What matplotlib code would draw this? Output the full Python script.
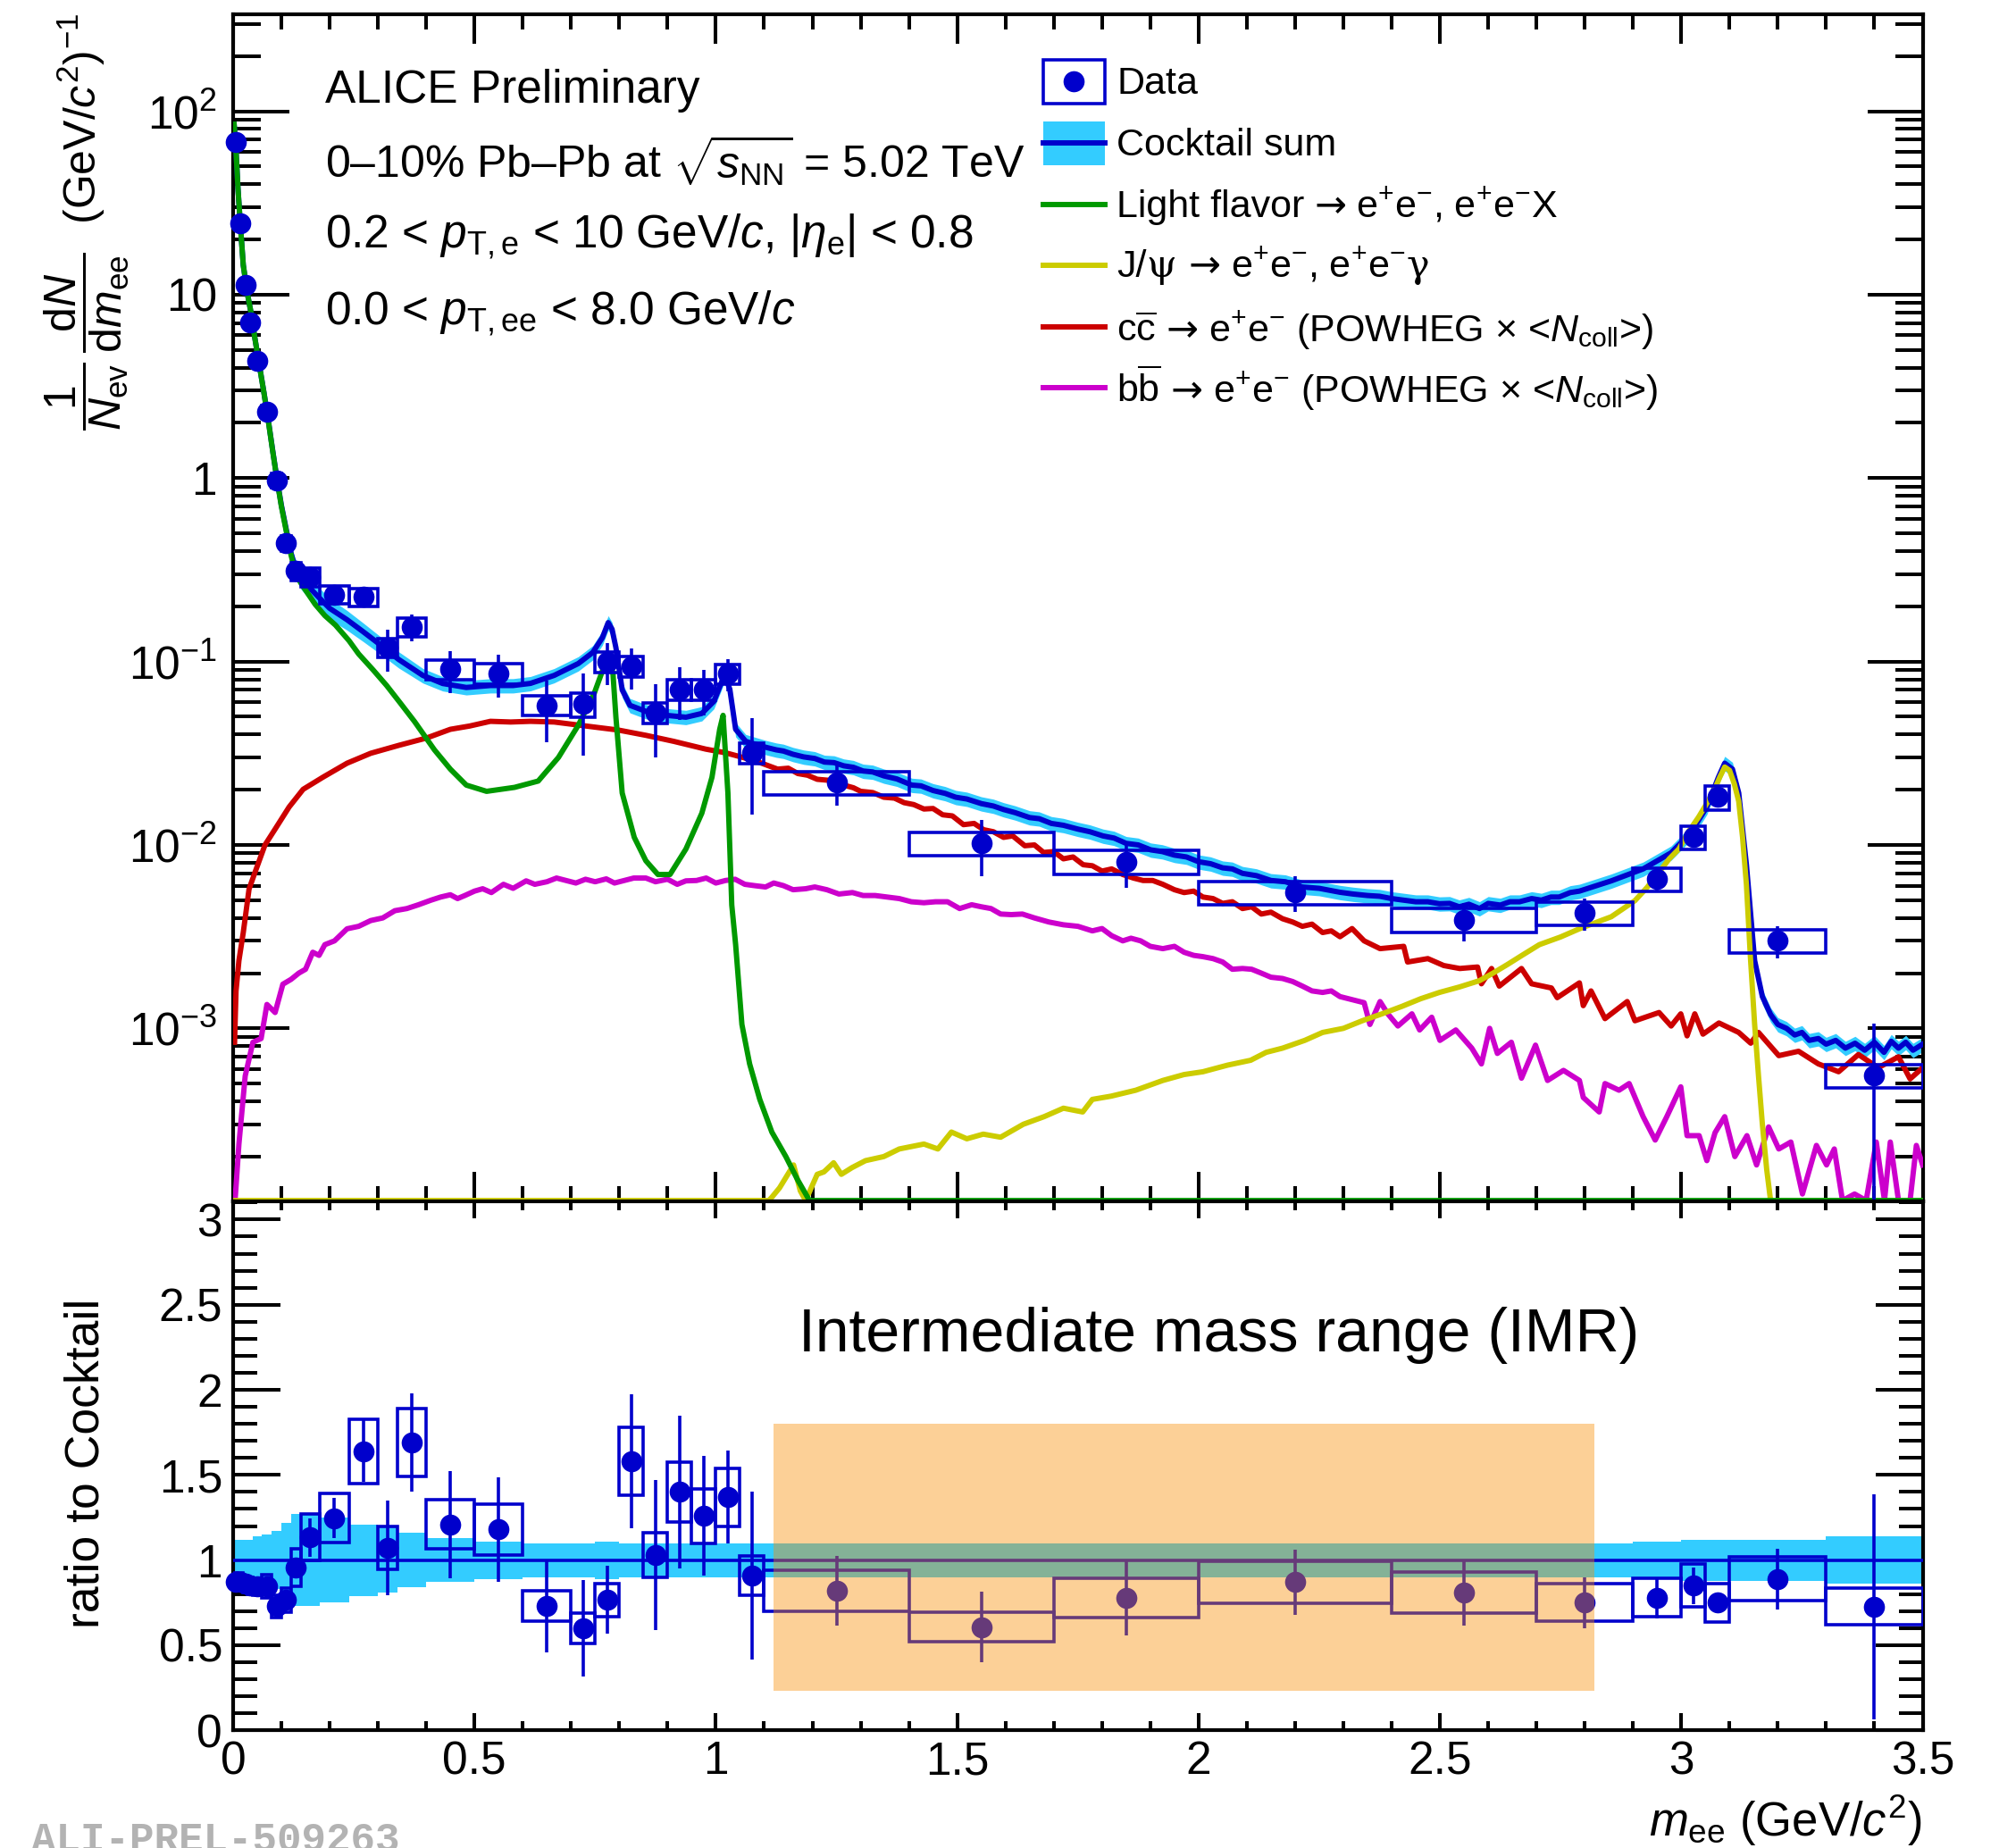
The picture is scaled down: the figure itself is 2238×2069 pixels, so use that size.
import numpy as np
import matplotlib
matplotlib.use('Agg')
import matplotlib.pyplot as plt
from matplotlib.patches import Rectangle
from matplotlib.lines import Line2D
from matplotlib.ticker import MultipleLocator, LogLocator, FixedLocator, FuncFormatter, NullFormatter

plt.rcParams['font.family'] = ['Liberation Sans', 'DejaVu Sans']
plt.rcParams['mathtext.fontset'] = 'custom'
plt.rcParams['mathtext.rm'] = 'Liberation Sans'
plt.rcParams['mathtext.it'] = 'Liberation Sans:italic'
plt.rcParams['mathtext.bf'] = 'Liberation Sans:bold'

# ---- data ----
bin_edges = [0.0, 0.01, 0.02, 0.03, 0.04, 0.06, 0.08, 0.10, 0.12, 0.14, 0.18, 0.24, 0.30,
             0.34, 0.40, 0.50, 0.60, 0.70, 0.75, 0.80, 0.85, 0.90, 0.95, 1.00, 1.05, 1.10,
             1.40, 1.70, 2.00, 2.40, 2.70, 2.90, 3.00, 3.05, 3.10, 3.30, 3.50]
data_y = [68.0, 24.6, 11.3, 7.05, 4.38, 2.31, 0.975, 0.442, 0.311, 0.290, 0.232, 0.225,
          0.119, 0.1545, 0.0906, 0.0861, 0.0577, 0.0585, 0.100, 0.094, 0.0527, 0.0705,
          0.0705, 0.086, 0.0319, 0.0219, 0.01026, 0.0081, 0.00553, 0.0039, 0.00427, 0.0065,
          0.01105, 0.01825, 0.0030, 0.000553]
stat_rel = [0.01, 0.01, 0.015, 0.02, 0.02, 0.03, 0.04, 0.05, 0.06, 0.10, 0.095, 0.11, 0.26,
            0.17, 0.26, 0.26, 0.37, 0.475, 0.26, 0.25, 0.43, 0.32, 0.28, 0.20, 0.54, 0.25,
            0.34, 0.28, 0.22, 0.24, 0.20, 0.155, 0.125, 0.05, 0.20, 0.91]
syst_rel = [0.06, 0.06, 0.06, 0.06, 0.06, 0.08, 0.09, 0.09, 0.115, 0.12, 0.115, 0.115, 0.117,
            0.118, 0.118, 0.126, 0.123, 0.147, 0.126, 0.127, 0.126, 0.125, 0.127, 0.124,
            0.126, 0.145, 0.145, 0.148, 0.144, 0.15, 0.148, 0.145, 0.149, 0.151, 0.145, 0.147]
ratio_y = [0.87, 0.87, 0.86, 0.85, 0.845, 0.845, 0.73, 0.765, 0.957, 1.133, 1.246, 1.64,
           1.07, 1.69, 1.21, 1.18, 0.73, 0.60, 0.767, 1.58, 1.03, 1.40, 1.26, 1.37, 0.91,
           0.82, 0.607, 0.777, 0.87, 0.81, 0.75, 0.78, 0.85, 0.75, 0.89, 0.727]
band_rel = [0.12, 0.12, 0.12, 0.12, 0.14, 0.15, 0.17, 0.22, 0.27, 0.27, 0.25, 0.21, 0.19,
            0.16, 0.13, 0.11, 0.10, 0.10, 0.11, 0.10, 0.10, 0.10, 0.10, 0.10, 0.10, 0.10,
            0.10, 0.10, 0.10, 0.10, 0.10, 0.11, 0.12, 0.12, 0.12, 0.14]

# cocktail sum and its band
sum_m = [0.002, 0.005, 0.010, 0.015, 0.021, 0.030, 0.037, 0.045, 0.054, 0.064, 0.074, 0.082,
         0.091, 0.100, 0.112, 0.120, 0.128, 0.140, 0.160, 0.178, 0.200, 0.236, 0.270, 0.302,
         0.343, 0.393, 0.434, 0.483, 0.533, 0.580, 0.616, 0.665, 0.715, 0.745, 0.765, 0.777,
         0.785, 0.793, 0.806, 0.822, 0.855, 0.897, 0.938, 0.971, 0.996, 1.010, 1.018, 1.029,
         1.041, 1.062, 1.103, 1.125, 1.140, 1.160, 1.182, 1.205, 1.225, 1.245, 1.265, 1.285,
         1.305, 1.325, 1.348, 1.375, 1.406, 1.425, 1.450, 1.475, 1.497, 1.520, 1.550, 1.575,
         1.596, 1.620, 1.650, 1.670, 1.695, 1.720, 1.750, 1.775, 1.802, 1.825, 1.850, 1.875,
         1.901, 1.925, 1.950, 1.975, 2.000, 2.025, 2.050, 2.070, 2.091, 2.120, 2.150, 2.180,
         2.215, 2.250, 2.293, 2.320, 2.350, 2.375, 2.400, 2.425, 2.450, 2.475, 2.499, 2.520,
         2.540, 2.560, 2.582, 2.600, 2.625, 2.645, 2.665, 2.690, 2.710, 2.730, 2.747, 2.770,
         2.789, 2.855, 2.921, 2.979, 3.019, 3.053, 3.077, 3.090, 3.106, 3.119, 3.135, 3.152,
         3.168, 3.185, 3.200, 3.218, 3.235, 3.250, 3.265, 3.284, 3.300, 3.320, 3.340, 3.360,
         3.380, 3.400, 3.420, 3.435, 3.450, 3.465, 3.480, 3.500]
sum_y = [85, 68, 38, 24, 14.5, 10.0, 8.0, 5.8, 4.18, 2.91, 1.97, 1.41, 0.985, 0.71, 0.495,
         0.39, 0.33, 0.285, 0.25, 0.223, 0.195, 0.169, 0.145, 0.125, 0.1026, 0.084, 0.0759,
         0.0722, 0.074, 0.074, 0.076, 0.084, 0.0975, 0.112, 0.135, 0.163, 0.15, 0.119, 0.07,
         0.0577, 0.0535, 0.0509, 0.0497, 0.0521, 0.0607, 0.075, 0.085, 0.0705, 0.0427, 0.0367,
         0.0341, 0.0330, 0.0325, 0.0312, 0.0302, 0.0296, 0.0283, 0.0281, 0.0270, 0.0265,
         0.0253, 0.0250, 0.0238, 0.0229, 0.0212, 0.0210, 0.0198, 0.0191, 0.0182, 0.0178,
         0.0168, 0.0163, 0.0156, 0.0150, 0.0141, 0.0139, 0.0131, 0.0128, 0.0122, 0.0118,
         0.0112, 0.0109, 0.0102, 0.0100, 0.0094, 0.0092, 0.0088, 0.0086, 0.0081, 0.0079,
         0.0075, 0.0074, 0.0070, 0.0068, 0.0064, 0.0063, 0.0059, 0.0058, 0.00552, 0.0054,
         0.0053, 0.00525, 0.0051, 0.0050, 0.0049, 0.0049, 0.00478, 0.0048, 0.0046, 0.00475,
         0.0045, 0.0048, 0.0047, 0.0049, 0.0049, 0.0051, 0.0050, 0.0052, 0.0052, 0.0055,
         0.0056, 0.00637, 0.0074, 0.00906, 0.0116, 0.0161, 0.0234, 0.0279, 0.0259, 0.0192,
         0.00778, 0.00234, 0.00149, 0.00119, 0.00105, 0.0010, 0.00092, 0.00095, 0.00086,
         0.00088, 0.00082, 0.00086, 0.00078, 0.00083, 0.00076, 0.00084, 0.00074, 0.00085,
         0.00078, 0.00084, 0.00076, 0.00082]
sum_band_m = [0.0, 0.12, 0.15, 0.25, 0.40, 3.50]
sum_band_rel = [0.10, 0.10, 0.14, 0.12, 0.09, 0.09]

# light flavour
lf_m = [0.002, 0.005, 0.010, 0.015, 0.021, 0.030, 0.037, 0.045, 0.054, 0.064, 0.074, 0.082,
        0.091, 0.100, 0.112, 0.120, 0.128, 0.136, 0.150, 0.170, 0.190, 0.212, 0.240, 0.260,
        0.290, 0.318, 0.345, 0.376, 0.417, 0.450, 0.483, 0.525, 0.583, 0.632, 0.674, 0.715,
        0.748, 0.769, 0.780, 0.787, 0.793, 0.806, 0.831, 0.855, 0.880, 0.905, 0.938, 0.971,
        0.992, 1.008, 1.015, 1.025, 1.033, 1.041, 1.054, 1.070, 1.091, 1.116, 1.145, 1.169,
        1.194, 1.200, 3.500]
lf_y = [85, 68, 38, 24, 14.5, 10.0, 8.0, 5.8, 4.17, 2.9, 1.96, 1.4, 0.975, 0.70, 0.484, 0.38,
        0.315, 0.279, 0.245, 0.205, 0.178, 0.158, 0.13, 0.11, 0.09, 0.074, 0.06, 0.047, 0.033,
        0.0259, 0.0212, 0.0196, 0.0206, 0.0223, 0.030, 0.0449, 0.067, 0.095, 0.105, 0.085,
        0.0497, 0.0192, 0.011, 0.0082, 0.0069, 0.0069, 0.0095, 0.0149, 0.0234, 0.0427, 0.0509,
        0.0192, 0.0047, 0.00286, 0.00105, 0.00064, 0.00041, 0.000272, 0.0002, 0.00015,
        0.00011, 0, 0]

# J/psi
jpsi_m = [0.0, 1.110, 1.116, 1.132, 1.161, 1.175, 1.186, 1.210, 1.224, 1.244, 1.260, 1.282,
          1.310, 1.348, 1.380, 1.431, 1.460, 1.488, 1.520, 1.554, 1.590, 1.637, 1.680, 1.720,
          1.760, 1.780, 1.819, 1.870, 1.926, 1.970, 2.009, 2.060, 2.108, 2.140, 2.174, 2.220,
          2.257, 2.300, 2.339, 2.380, 2.422, 2.460, 2.499, 2.540, 2.582, 2.610, 2.640, 2.670,
          2.706, 2.750, 2.789, 2.820, 2.855, 2.880, 2.904, 2.930, 2.953, 2.975, 2.995, 3.015,
          3.036, 3.055, 3.069, 3.080, 3.090, 3.100, 3.110, 3.119, 3.127, 3.135, 3.143, 3.152,
          3.160, 3.168, 3.177, 3.185, 3.500]
jpsi_y = [0, 0, 0.00012, 0.000135, 0.00018, 0.00013, 0.000115, 0.00016, 0.000165, 0.000185,
          0.00016, 0.000174, 0.00019, 0.0002, 0.00022, 0.000234, 0.00022, 0.000272, 0.00025,
          0.000265, 0.000255, 0.0003, 0.00033, 0.000367, 0.00035, 0.00041, 0.000427, 0.00046,
          0.00052, 0.00056, 0.00058, 0.00063, 0.00067, 0.00074, 0.00078, 0.00086, 0.00095,
          0.0010, 0.0011, 0.0012, 0.00132, 0.00145, 0.00157, 0.00168, 0.00182, 0.0020, 0.00223,
          0.0025, 0.00286, 0.00315, 0.00349, 0.00375, 0.00406, 0.0045, 0.00497, 0.0059, 0.00705,
          0.0084, 0.0095, 0.0118, 0.0142, 0.0172, 0.0201, 0.0235, 0.0266, 0.0255, 0.0215,
          0.0173, 0.011, 0.00607, 0.0025, 0.00105, 0.00055, 0.0003, 0.00017, 0, 0]

# c cbar
cc_m = [0.003, 0.006, 0.012, 0.021, 0.033, 0.045, 0.066, 0.087, 0.116, 0.145, 0.186, 0.236,
        0.285, 0.343, 0.401, 0.450, 0.490, 0.533, 0.575, 0.616, 0.665, 0.731, 0.798, 0.855,
        0.913, 0.979, 1.020, 1.054, 1.090, 1.128, 1.150, 1.170, 1.190, 1.210, 1.235, 1.265,
        1.285, 1.300, 1.325, 1.348, 1.370, 1.390, 1.410, 1.431, 1.450, 1.470, 1.490, 1.513,
        1.535, 1.555, 1.575, 1.596, 1.615, 1.640, 1.660, 1.679, 1.700, 1.720, 1.740, 1.761,
        1.780, 1.800, 1.820, 1.843, 1.865, 1.885, 1.905, 1.926, 1.950, 1.970, 1.990, 2.009,
        2.030, 2.050, 2.070, 2.091, 2.110, 2.130, 2.150, 2.174, 2.195, 2.215, 2.235, 2.257,
        2.275, 2.293, 2.318, 2.343, 2.376, 2.425, 2.433, 2.475, 2.508, 2.541, 2.578, 2.586,
        2.607, 2.623, 2.669, 2.690, 2.731, 2.743, 2.789, 2.797, 2.813, 2.842, 2.888, 2.904,
        2.954, 2.979, 2.999, 3.012, 3.028, 3.045, 3.078, 3.119, 3.144, 3.160, 3.202, 3.243,
        3.284, 3.326, 3.367, 3.408, 3.450, 3.474, 3.500]
cc_y = [0.00084, 0.0016, 0.00234, 0.00333, 0.00575, 0.00705, 0.0100, 0.0122, 0.0161, 0.0201,
        0.0234, 0.0279, 0.0316, 0.0349, 0.0383, 0.0427, 0.0445, 0.0472, 0.0468, 0.0472,
        0.0468, 0.0445, 0.0423, 0.0396, 0.0367, 0.0333, 0.0318, 0.0301, 0.0282, 0.0259,
        0.0262, 0.0245, 0.0240, 0.0228, 0.0225, 0.0212, 0.0205, 0.0196, 0.0193, 0.0182,
        0.0180, 0.0170, 0.0166, 0.0157, 0.0158, 0.0146, 0.0144, 0.0129, 0.0131, 0.0121,
        0.0118, 0.0110, 0.0112, 0.0099, 0.0100, 0.0091, 0.0092, 0.0084, 0.0086, 0.0078,
        0.0077, 0.0072, 0.0074, 0.0069, 0.0066, 0.0064, 0.0064, 0.0061, 0.0057, 0.0055,
        0.0056, 0.0052, 0.0051, 0.0048, 0.0049, 0.0045, 0.0046, 0.0042, 0.0043, 0.00396,
        0.0038, 0.0036, 0.0037, 0.00333, 0.0034, 0.00316, 0.0035, 0.0030, 0.00272, 0.0028,
        0.0023, 0.0024, 0.0022, 0.00212, 0.00216, 0.00175, 0.00212, 0.0017, 0.00212, 0.00175,
        0.00166, 0.00147, 0.00177, 0.00133, 0.0016, 0.00113, 0.0014, 0.0011, 0.00122, 0.00103,
        0.0012, 0.00091, 0.0012, 0.00093, 0.00107, 0.00095, 0.00083, 0.00095, 0.00071,
        0.00075, 0.00064, 0.00058, 0.00072, 0.00061, 0.0007, 0.00053, 0.00061]

# b bbar
bb_m = [0.004, 0.012, 0.025, 0.041, 0.058, 0.070, 0.087, 0.103, 0.120, 0.136, 0.150, 0.165,
        0.178, 0.190, 0.210, 0.236, 0.260, 0.285, 0.310, 0.335, 0.360, 0.384,
        0.410, 0.430, 0.450, 0.465, 0.480, 0.500, 0.517, 0.535, 0.560, 0.580, 0.607, 0.625,
        0.650, 0.670, 0.690, 0.710, 0.730, 0.750, 0.773, 0.790, 0.810, 0.830, 0.855, 0.875,
        0.900, 0.920, 0.938, 0.960, 0.980, 1.000, 1.020, 1.040, 1.060, 1.080, 1.103, 1.120,
        1.140, 1.160, 1.186, 1.205, 1.230, 1.255, 1.283, 1.305, 1.330, 1.355, 1.380, 1.405,
        1.431, 1.455, 1.480, 1.505, 1.530, 1.550, 1.570, 1.590, 1.612, 1.635, 1.660, 1.690,
        1.720, 1.750, 1.780, 1.800, 1.820, 1.843, 1.860, 1.880, 1.900, 1.926, 1.950, 1.970,
        1.990, 2.009, 2.030, 2.050, 2.070, 2.091, 2.110, 2.130, 2.150, 2.174, 2.195, 2.215,
        2.235, 2.257, 2.275,
        2.293, 2.343, 2.355, 2.376, 2.392, 2.413, 2.442, 2.458, 2.483, 2.500, 2.533, 2.566,
        2.586, 2.603, 2.619, 2.648, 2.669, 2.698, 2.723, 2.756, 2.789, 2.797, 2.830, 2.842,
        2.871, 2.892, 2.921, 2.946, 2.970, 2.999, 3.012, 3.037, 3.053, 3.070, 3.090, 3.111,
        3.136, 3.156, 3.181, 3.202, 3.227, 3.251, 3.280, 3.301, 3.317, 3.334, 3.359, 3.383,
        3.404, 3.421, 3.433, 3.450, 3.474, 3.487, 3.500]
bb_y = [0.0, 0.000234, 0.00055, 0.00084, 0.00088, 0.00135, 0.00122, 0.00174, 0.00185, 0.0020,
        0.0021, 0.0026, 0.0025, 0.00286, 0.0030, 0.00349, 0.0036, 0.00387, 0.0040, 0.00438,
        0.0045, 0.00472,
        0.0050, 0.0052, 0.00535, 0.0051, 0.0053, 0.0056, 0.00577, 0.0055, 0.0061, 0.0058,
        0.00637, 0.0061, 0.0063, 0.0066, 0.0064, 0.0062, 0.0065, 0.0063, 0.00653, 0.0062,
        0.0064, 0.0066, 0.0066, 0.0063, 0.0065, 0.0061, 0.00637, 0.0064, 0.0066, 0.0062,
        0.0064, 0.0065, 0.0061, 0.0060, 0.0059, 0.0062, 0.0060, 0.0057, 0.00577, 0.0059,
        0.0057, 0.0054, 0.0055, 0.0053, 0.0053, 0.0052, 0.0051, 0.0049, 0.00484, 0.0049,
        0.0049, 0.0045, 0.00472, 0.0046, 0.0045, 0.0042, 0.00417, 0.0042, 0.0040, 0.0038,
        0.00367, 0.0036, 0.0034, 0.0035, 0.0032, 0.0030, 0.0031, 0.0030, 0.0028, 0.00272,
        0.0028, 0.0026, 0.0025, 0.00246, 0.0024, 0.0023, 0.0021, 0.00212, 0.0021, 0.0020,
        0.0019, 0.00187, 0.0018, 0.0017, 0.0016, 0.00157, 0.0016,
        0.00149, 0.00138, 0.00105, 0.0014, 0.0012, 0.00103, 0.0012, 0.00098, 0.00115, 0.00086,
        0.00098, 0.00078, 0.00064, 0.0010, 0.00073, 0.00084, 0.000535, 0.00081, 0.00052,
        0.00059, 0.00052, 0.00042, 0.00035, 0.0005, 0.00046, 0.0005, 0.00033, 0.000246,
        0.00033, 0.00048, 0.00026, 0.00026, 0.00019, 0.00027, 0.00033, 0.0002, 0.00026,
        0.00018, 0.00029, 0.00022, 0.00024, 0.000125, 0.00023, 0.00018, 0.00022, 0.0,
        0.000125, 0.000115, 0.00024, 0.0, 0.00024, 0.0, 0.0, 0.00023, 0.00018]

imr_m = (1.12, 2.82)
imr_r = (0.23, 1.80)

# ---- colours / geometry ----
BLUE = '#0000cc'
CYAN = '#33ccff'
GREEN = '#009900'
YELLOW = '#cccc00'
RED = '#cc0000'
MAGENTA = '#cc00cc'
ORANGE = (250 / 255, 142 / 255, 3 / 255)
LW = 4.3
MS = 17

W, H = 2238.0, 2069.0
def fx(x):
    return x / W
def fy(y):
    return 1 - y / H

YMIN, YMAX = 1.14e-4, 339.0

fig = plt.figure(figsize=(W / 100, H / 100), dpi=100)
ax1 = fig.add_axes([fx(261), fy(1345), (2152.5 - 261) / W, (1345 - 15.7) / H])
ax2 = fig.add_axes([fx(261), fy(1937.3), (2152.5 - 261) / W, (1937.3 - 1345) / H])

edges = np.array(bin_edges)
centers = 0.5 * (edges[1:] + edges[:-1])
dy = np.array(data_y)
srel = np.array(stat_rel)
yrel = np.array(syst_rel)
ry = np.array(ratio_y)

# ---- top panel ----
sm = np.array(sum_m)
sy = np.array(sum_y)
e_band = np.interp(sm, sum_band_m, sum_band_rel)
ax1.fill_between(sm, sy * (1 - e_band), sy * (1 + e_band), color=CYAN, lw=0, zorder=2)
ax1.plot(sm, sy, color=BLUE, lw=LW, zorder=3)

for mm, yy, col in [(bb_m, bb_y, MAGENTA), (cc_m, cc_y, RED),
                    (jpsi_m, jpsi_y, YELLOW), (lf_m, lf_y, GREEN)]:
    ax1.plot(mm, np.maximum(np.array(yy), YMIN * 1.01), color=col, lw=LW, zorder=4)

for i in range(len(centers)):
    ax1.add_patch(Rectangle((edges[i], dy[i] * (1 - yrel[i])), edges[i + 1] - edges[i],
                            2 * yrel[i] * dy[i], fill=False, ec=BLUE, lw=2.6, zorder=6))
ax1.errorbar(centers, dy, yerr=dy * srel, fmt='none', ecolor=BLUE, elinewidth=2.6,
             capsize=0, zorder=7)
ax1.plot(centers, dy, 'o', color=BLUE, ms=MS, mew=0, zorder=8, clip_on=False)

ax1.set_xlim(0, 3.5)
ax1.set_yscale('log')
ax1.set_ylim(YMIN, YMAX)
ax1.xaxis.set_major_locator(MultipleLocator(0.5))
ax1.xaxis.set_minor_locator(MultipleLocator(0.1))
ax1.yaxis.set_major_locator(FixedLocator([1e-3, 1e-2, 1e-1, 1, 10, 100]))
ax1.yaxis.set_minor_locator(LogLocator(base=10, subs=np.arange(2, 10), numticks=20))
ax1.yaxis.set_minor_formatter(NullFormatter())


def log_label(v, pos):
    e = int(round(np.log10(v)))
    if e == 0:
        return '1'
    if e == 1:
        return '10'
    return r'10$^{%d}$' % e


ax1.yaxis.set_major_formatter(FuncFormatter(log_label))
ax1.tick_params(which='both', direction='in', top=True, right=True, labelbottom=False,
                width=2.9, labelsize=37)
ax1.tick_params(axis='x', which='major', length=24)
ax1.tick_params(axis='x', which='minor', length=12)
ax1.tick_params(axis='y', which='major', length=45, pad=13)
ax1.tick_params(axis='y', which='minor', length=22)

# ---- ratio panel ----
br = np.array(band_rel)
ax2.fill_between(edges, np.append(1 - br, 1 - br[-1]), np.append(1 + br, 1 + br[-1]),
                 step='post', color=CYAN, lw=0, zorder=2)
ax2.axhline(1.0, color=BLUE, lw=2.6, zorder=3)
for i in range(len(centers)):
    ax2.add_patch(Rectangle((edges[i], ry[i] * (1 - yrel[i])), edges[i + 1] - edges[i],
                            2 * yrel[i] * ry[i], fill=False, ec=BLUE, lw=2.6, zorder=6))
ax2.errorbar(centers, ry, yerr=ry * srel, fmt='none', ecolor=BLUE, elinewidth=2.6,
             capsize=0, zorder=7)
ax2.plot(centers, ry, 'o', color=BLUE, ms=MS, mew=0, zorder=8, clip_on=False)
ax2.add_patch(Rectangle((imr_m[0], imr_r[0]), imr_m[1] - imr_m[0], imr_r[1] - imr_r[0],
                        color=ORANGE, alpha=0.41, lw=0, zorder=10))

ax2.set_xlim(0, 3.5)
ax2.set_ylim(0, 3.107)
ax2.xaxis.set_major_locator(MultipleLocator(0.5))
ax2.xaxis.set_minor_locator(MultipleLocator(0.1))
ax2.yaxis.set_major_locator(MultipleLocator(0.5))
ax2.yaxis.set_minor_locator(MultipleLocator(0.1))
gfmt = FuncFormatter(lambda v, p: '%g' % v)
ax2.xaxis.set_major_formatter(gfmt)
ax2.yaxis.set_major_formatter(gfmt)
ax2.tick_params(which='both', direction='in', top=True, right=True, width=2.9, labelsize=37)
ax2.tick_params(axis='x', which='major', length=13.7, pad=8)
ax2.tick_params(axis='x', which='minor', length=7)
ax2.tick_params(axis='y', which='major', length=38, pad=8.6)
ax2.tick_params(axis='y', which='minor', length=19.5)

for ax in (ax1, ax2):
    for sp in ax.spines.values():
        sp.set_linewidth(3)

# ---- texts ----
renderer = fig.canvas.get_renderer()


def chain_text(x, y, pieces, size):
    # pieces: (string, font family, gap before in px); laid out left to right
    cur = x
    for s, fam, gap in pieces:
        cur += gap
        t = fig.text(fx(cur), fy(y), s, fontsize=size, va='baseline', family=fam)
        cur = t.get_window_extent(renderer=renderer).x1


fig.text(fx(364), fy(115), 'ALICE Preliminary', fontsize=37, va='baseline')
fig.text(fx(364), fy(200), r'0–10% Pb–Pb at $\sqrt{s_{\rm NN}}$ = 5.02 TeV',
         fontsize=36, va='baseline')
fig.text(fx(364), fy(277), r'0.2 < $p_{\rm T,e}$ < 10 GeV/$c$, |$\eta_{\rm e}$| < 0.8',
         fontsize=37, va='baseline')
fig.text(fx(364), fy(363), r'0.0 < $p_{\rm T,ee}$ < 8.0 GeV/$c$', fontsize=37, va='baseline')

fig.text(fx(894), fy(1513), 'Intermediate mass range (IMR)', fontsize=49, va='baseline')

fig.text(fx(97), fy(15),
         r'$\dfrac{1}{N_{\rm ev}}\,\dfrac{{\rm d}N}{{\rm d}m_{\rm ee}}$  (GeV/$c^{2}$)$^{-1}$',
         rotation=90, ha='center', va='top', fontsize=36)
fig.text(fx(97), fy(1638), 'ratio to Cocktail', rotation=90, ha='center', va='center',
         fontsize=38.5)
fig.text(fx(2152), fy(2056), r'$m_{\rm ee}$ (GeV/$c^{2}$)', ha='right', va='baseline',
         fontsize=38)
fig.text(fx(35), fy(2073), 'ALI-PREL-509263', family='Liberation Mono', weight='bold',
         color='#b3b3b3', fontsize=33, va='baseline')

# ---- legend (drawn by hand, ROOT style) ----
lx0, lx1, tx = 1168, 1237, 1250
fig.add_artist(Rectangle((fx(lx0), fy(116)), (lx1 - lx0) / W, (116 - 67) / H,
                         transform=fig.transFigure, fill=False, ec=BLUE, lw=2.6))
fig.add_artist(Line2D([fx(1202)], [fy(91)], marker='o', color=BLUE, ms=MS, mew=0,
                      transform=fig.transFigure))
fig.add_artist(Rectangle((fx(lx0), fy(185)), (lx1 - lx0) / W, (185 - 136) / H,
                         transform=fig.transFigure, color=CYAN, lw=0))
fig.add_artist(Line2D([fx(lx0), fx(lx1)], [fy(160), fy(160)], color=BLUE, lw=LW,
                      transform=fig.transFigure))
for yl, col in [(229, GREEN), (297, YELLOW), (366, RED), (434, MAGENTA)]:
    fig.add_artist(Line2D([fx(lx0), fx(lx1)], [fy(yl), fy(yl)], color=col, lw=LW,
                          transform=fig.transFigure))

SANS = 'Liberation Sans'
ARROW = 'DejaVu Sans'
GREEK = 'DejaVu Serif'
ee = r'e$^{+}$e$^{-}$'
fig.text(fx(tx), fy(105), 'Data', fontsize=31, va='baseline')
fig.text(fx(tx), fy(174), 'Cocktail sum', fontsize=31, va='baseline')
chain_text(tx, 243, [('Light flavor', SANS, 0), ('→', ARROW, 11),
                     (ee + ', ' + ee + 'X', SANS, 11)], 31)
chain_text(tx, 310, [('J/', SANS, 0), ('ψ', GREEK, 0), ('→', ARROW, 13),
                     (ee + ', ' + ee, SANS, 12), ('γ', GREEK, 1)], 31)
chain_text(tx, 382, [(r'c$\overline{\rm c}$', SANS, 0), ('→', ARROW, 11),
                     (ee + r' (POWHEG × <$N_{\rm coll}$>)', SANS, 11)], 31)
chain_text(tx, 450, [(r'b$\overline{\rm b}$', SANS, 0), ('→', ARROW, 11),
                     (ee + r' (POWHEG × <$N_{\rm coll}$>)', SANS, 11)], 31)

fig.savefig('out.png', dpi=100)
